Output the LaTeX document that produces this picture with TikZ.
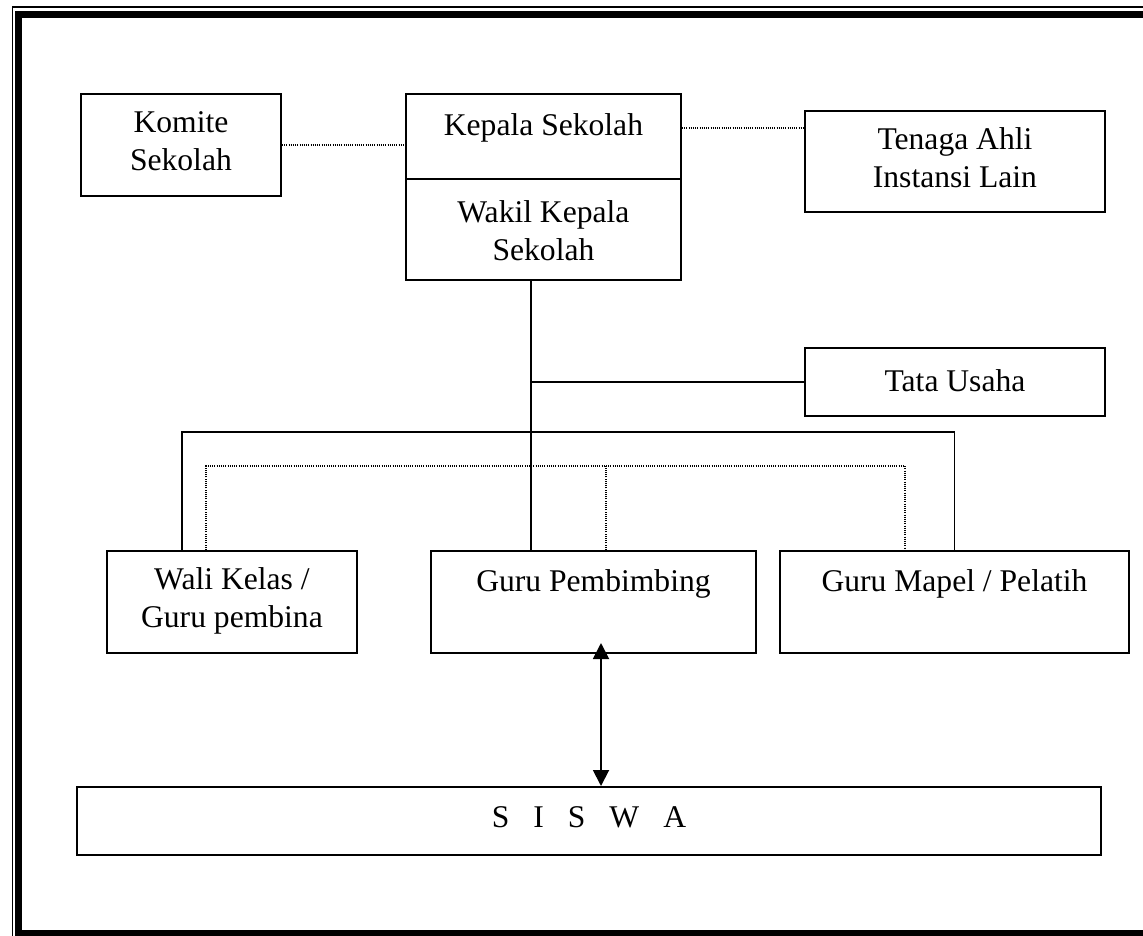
\documentclass[tikz,border=0pt]{standalone}
\usepackage{fontspec}
\setmainfont{Liberation Serif}
\usetikzlibrary{arrows.meta}

\begin{document}
\begin{tikzpicture}[x=1pt,y=-1pt,
                kotak/.style={draw, line width=1.9pt, inner sep=0pt, anchor=north west,
                    align=center, font=\fontsize{31.6}{38}\selectfont},
                garis/.style={line width=1.9pt},
                titik/.style={line width=1.1pt, dash pattern=on 1pt off 1.2pt}]
                \clip (0,0) rectangle (1143,935);

                % bingkai
                \draw[line width=1.3pt] (12.5,7) rectangle (1170,960);
                \draw[line width=7pt] (18,14.5) rectangle (1150,933.5);

                % kotak-kotak
                \node[kotak, minimum width=200pt, minimum height=102pt, text height=77pt, text depth=25pt] (komite) at (80,93) {Komite\\Sekolah};
                \node[kotak, minimum width=275pt, minimum height=85pt, text height=42pt, text depth=43pt] (kepala) at (405,93) {Kepala Sekolah};
                \node[kotak, minimum width=275pt, minimum height=101pt, text height=82pt, text depth=19pt] (wakil) at (405,178) {Wakil Kepala\\Sekolah};
                \node[kotak, minimum width=300pt, minimum height=101pt, text height=77pt, text depth=24pt] (tenaga) at (804,110) {Tenaga Ahli\\Instansi Lain};
                \node[kotak, minimum width=300pt, minimum height=68pt, text height=44pt, text depth=24pt] (tata) at (804,347) {Tata Usaha};
                \node[kotak, minimum width=250pt, minimum height=102pt, text height=77pt, text depth=25pt] (wali) at (106,550) {Wali Kelas /\\Guru pembina};
                \node[kotak, minimum width=325pt, minimum height=102pt, text height=41pt, text depth=61pt] (bimbing) at (430,550) {Guru Pembimbing};
                \node[kotak, minimum width=349pt, minimum height=102pt, text height=41pt, text depth=61pt] (mapel) at (779,550) {Guru Mapel / Pelatih};
                \node[kotak, minimum width=1024pt, minimum height=68pt, text height=41pt, text depth=27pt] (siswa) at (76,786)
                    {S\hspace{24pt}I\hspace{24pt}S\hspace{24pt}W\hspace{24pt}A};

                % garis putus-putus
                \draw[titik] (komite.east) -- (komite.east -| kepala.west);
                \draw[titik] ([yshift=8.5pt]kepala.east) -- ([yshift=8.5pt]kepala.east -| tenaga.west);

                % garis komando
                \draw[garis] ([xshift=-12.5pt]wakil.south) coordinate (batang) -- (batang |- bimbing.north);
                \draw[garis] (batang |- tata.west) -- (tata.west);
                \coordinate (palang) at (0,432);
                \draw[garis] ([xshift=-50pt]wali.north) |- (palang -| mapel.north) -- (mapel.north);

                % garis koordinasi
                \coordinate (koord) at (0,466);
                \coordinate (mapelkiri) at ([xshift=-49.5pt]mapel.north);
                \draw[titik] ([xshift=-26pt]wali.north) |- (koord -| mapelkiri) -- (mapelkiri);
                \draw[titik] ([xshift=12.5pt]bimbing.north) -- ([xshift=12.5pt]bimbing.north |- koord);

                % bimbingan siswa
                \coordinate (panah) at (601,643);
                \draw[garis, {Triangle[length=16pt,width=16pt]}-{Triangle[length=16pt,width=16pt]}] (panah) -- (panah |- siswa.north);
\end{tikzpicture}
\end{document}
